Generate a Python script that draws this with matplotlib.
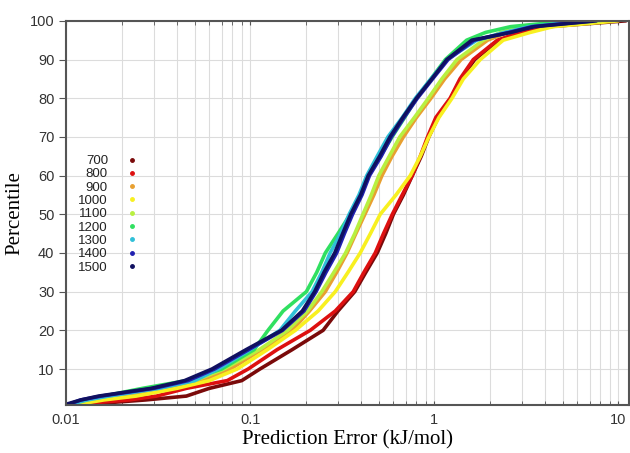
import numpy as np
import matplotlib.pyplot as plt
from matplotlib.lines import Line2D
from matplotlib.ticker import NullFormatter, LogLocator

# percentile levels (y) and prediction error (x, kJ/mol)
pct = [1, 2, 3, 5, 7, 10, 15, 20, 25, 30, 35, 40, 45, 50, 55, 60, 65, 70, 75, 80, 85, 90,
       95, 97, 98.5, 100]

err_700 = [0.014, 0.027, 0.045, 0.060, 0.090, 0.113, 0.169, 0.249, 0.300, 0.370, 0.425, 0.490,
           0.545, 0.600, 0.680, 0.760, 0.850, 0.935, 1.05, 1.23, 1.40, 1.66, 2.25, 3.00, 4.20, 11.0]
err_800 = [0.012, 0.022, 0.031, 0.045, 0.075, 0.0975, 0.140, 0.212, 0.290, 0.363, 0.415, 0.478,
           0.530, 0.592, 0.670, 0.759, 0.840, 0.920, 1.02, 1.22, 1.38, 1.63, 2.20, 2.93, 4.00, 9.0]
err_900 = [0.012, 0.015, 0.021, 0.035, 0.055, 0.078, 0.116, 0.169, 0.210, 0.256, 0.295, 0.336,
           0.375, 0.420, 0.470, 0.520, 0.590, 0.680, 0.800, 0.960, 1.14, 1.40, 1.95, 2.50, 3.30, 9.0]
err_1000 = [0.012, 0.016, 0.024, 0.040, 0.060, 0.085, 0.124, 0.176, 0.234, 0.290, 0.340, 0.396,
            0.450, 0.509, 0.620, 0.741, 0.840, 0.935, 1.06, 1.25, 1.44, 1.78, 2.37, 3.32, 4.43, 10.0]
err_1100 = [0.011, 0.013, 0.017, 0.030, 0.050, 0.072, 0.112, 0.160, 0.205, 0.245, 0.285, 0.330,
            0.370, 0.410, 0.455, 0.500, 0.570, 0.650, 0.780, 0.930, 1.10, 1.33, 1.85, 2.30, 3.00, 8.0]
err_1200 = [0.0105, 0.0125, 0.016, 0.026, 0.045, 0.070, 0.105, 0.125, 0.151, 0.202, 0.230, 0.256,
            0.300, 0.350, 0.395, 0.440, 0.510, 0.590, 0.690, 0.800, 0.960, 1.15, 1.50, 1.90, 2.60, 5.5]
err_1300 = [0.0108, 0.013, 0.017, 0.032, 0.050, 0.067, 0.100, 0.145, 0.176, 0.217, 0.245, 0.272,
            0.310, 0.345, 0.390, 0.430, 0.490, 0.560, 0.670, 0.790, 0.960, 1.17, 1.70, 2.40, 3.30, 6.5]
err_1400 = [0.0105, 0.012, 0.0155, 0.030, 0.046, 0.064, 0.098, 0.150, 0.196, 0.228, 0.258, 0.295,
            0.325, 0.360, 0.405, 0.445, 0.515, 0.585, 0.685, 0.810, 0.980, 1.19, 1.65, 2.55, 3.40, 7.3]
err_1500 = [0.0102, 0.012, 0.015, 0.029, 0.044, 0.062, 0.095, 0.148, 0.192, 0.224, 0.252, 0.288,
            0.318, 0.352, 0.398, 0.438, 0.505, 0.575, 0.675, 0.800, 0.970, 1.17, 1.60, 2.60, 3.50, 7.6]

labels = ['700', '800', '900', '1000', '1100', '1200', '1300', '1400', '1500']
series = [err_700, err_800, err_900, err_1000, err_1100, err_1200, err_1300, err_1400, err_1500]
colors = ['#7a0a0a', '#dd1010', '#e8a030', '#f8f020', '#b8f040', '#30e060',
          '#30c0d8', '#2020b0', '#101060']

plt.rcParams['font.family'] = ['Liberation Sans', 'DejaVu Sans']

fig = plt.figure(figsize=(6.3, 4.53), dpi=100)
ax = fig.add_axes([0.105, 0.106, 0.893, 0.848])

for lab, e, c in zip(labels, series, colors):
    ax.plot(e, pct, color=c, lw=2.6, solid_capstyle='round', solid_joinstyle='round')

ax.set_xscale('log')
ax.set_xlim(0.01, 11.4)
ax.set_ylim(0.7, 100)
ax.set_yticks(range(10, 101, 10))
ax.set_xticks([0.01, 0.1, 1, 10])
ax.set_xticklabels(['0.01', '0.1', '1', '10'])
ax.xaxis.set_minor_locator(LogLocator(base=10, subs=np.arange(2, 10)))
ax.xaxis.set_minor_formatter(NullFormatter())

ax.grid(True, which='major', color='#dcdcdc', lw=0.8)
ax.grid(True, which='minor', axis='x', color='#dcdcdc', lw=0.8)
ax.set_axisbelow(True)

ax.tick_params(axis='x', which='both', direction='in', top=True, length=3,
               color='#555555', labelsize=10.5, labelcolor='#333333', pad=6)
ax.tick_params(axis='y', which='major', direction='out', length=5, right=False,
               color='#555555', labelsize=10.5, labelcolor='#333333')
for sp in ax.spines.values():
    sp.set_color('#555555')
    sp.set_linewidth(1.5)

ax.set_xlabel('Prediction Error (kJ/mol)', family='Liberation Serif', fontsize=15, labelpad=2)
ax.set_ylabel('Percentile', family='Liberation Serif', fontsize=15, labelpad=4)

handles = [Line2D([], [], ls='none', marker='o', ms=2.5, color=c) for c in colors]
leg = ax.legend(handles, labels, loc='upper left', bbox_to_anchor=(0.01, 0.668),
                frameon=False, markerfirst=False, fontsize=9.5, labelspacing=0.08,
                handlelength=1.0, handletextpad=1.3, borderpad=0)
for t in leg.get_texts():
    t.set_ha('right')
    t.set_color('#222222')

plt.savefig('out.png', dpi=100)
